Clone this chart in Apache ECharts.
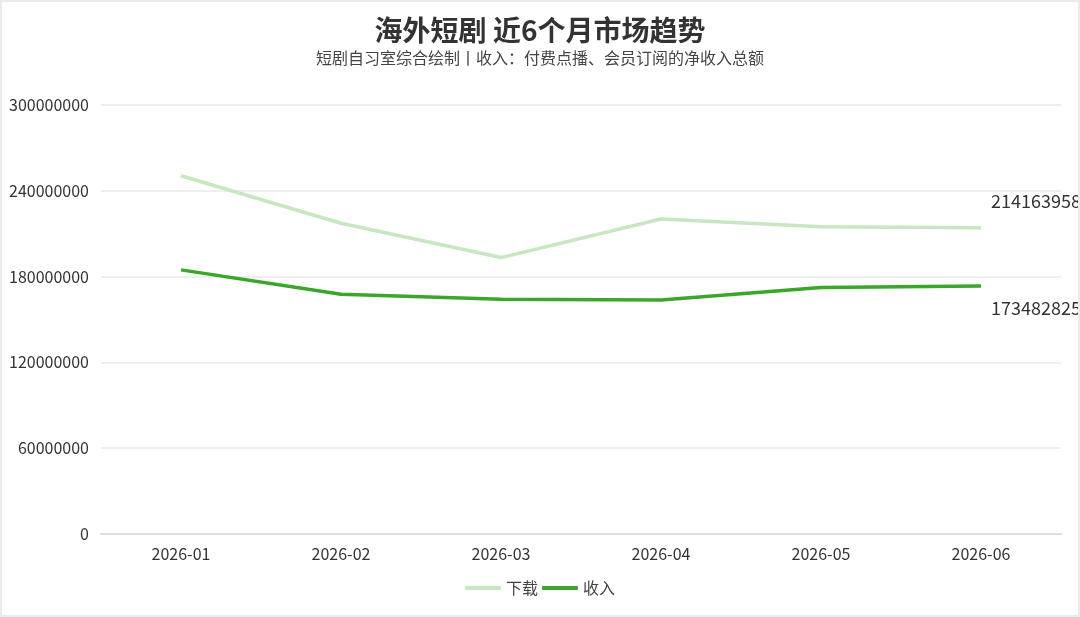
<!DOCTYPE html>
<html>
<head>
<meta charset="utf-8">
<script src="https://cdn.jsdelivr.net/npm/echarts@6/dist/echarts.min.js"></script>
<style>
  html, body { margin: 0; padding: 0; background: #fff; }
  #wrap { width: 1080px; height: 617px; box-sizing: border-box; border: 2px solid #ebebeb; }
  #chart { width: 100%; height: 100%; }
</style>
</head>
<body>
<div id="wrap"><div id="chart"></div></div>
<script>
// 数据
const months = ['2026-01', '2026-02', '2026-03', '2026-04', '2026-05', '2026-06'];
const downloads = [250500000, 217300000, 193300000, 220300000, 214900000, 214163958];
const revenue = [184700000, 167700000, 164200000, 163700000, 172300000, 173482825];

const font = '"Noto Sans CJK SC", "Noto Sans", sans-serif';
const chart = echarts.init(document.getElementById('chart'));

const option = {
    textStyle: { fontFamily: font },
    title: {
        text: '海外短剧 近6个月市场趋势',
        subtext: '短剧自习室综合绘制丨收入：付费点播、会员订阅的净收入总额',
        left: 'center',
        top: 9,
        itemGap: 6,
        textStyle: { fontSize: 28, fontWeight: 'bold', color: '#333', fontFamily: font },
        subtextStyle: { fontSize: 16, color: '#444', fontFamily: font }
    },
    legend: {
        bottom: 14,
        left: 'center',
        itemWidth: 36,
        itemHeight: 4,
        itemGap: 4,
        icon: 'roundRect',
        textStyle: { fontSize: 16, color: '#444', fontFamily: font },
        data: ['下载', '收入']
    },
    grid: { left: 99, right: 17, top: 103, bottom: 81 },
    xAxis: {
        type: 'category',
        data: months,
        axisLine: { lineStyle: { color: '#ddd', width: 2 } },
        axisTick: { alignWithLabel: true, lineStyle: { color: '#ddd', width: 2 } },
        axisLabel: { fontSize: 16, color: '#333', margin: 12, fontFamily: font }
    },
    yAxis: {
        type: 'value',
        min: 0,
        max: 300000000,
        interval: 60000000,
        axisLine: { show: false },
        axisTick: { show: false },
        axisLabel: { fontSize: 16, color: '#333', margin: 12, fontFamily: font, formatter: v => String(v) },
        splitLine: { lineStyle: { color: '#eee', width: 2 } }
    },
    series: [
        {
            name: '下载',
            type: 'line',
            data: downloads,
            showSymbol: false,
            color: '#c6e7c0',
            lineStyle: { width: 3.5, color: '#c6e7c0' },
            endLabel: { show: true, offset: [2, -27], fontSize: 18, color: '#333', fontFamily: font }
        },
        {
            name: '收入',
            type: 'line',
            data: revenue,
            showSymbol: false,
            color: '#3aa62a',
            lineStyle: { width: 3.5, color: '#3aa62a' },
            endLabel: { show: true, offset: [2, 22], fontSize: 18, color: '#333', fontFamily: font }
        }
    ]
};

chart.setOption(option);
</script>
</body>
</html>
